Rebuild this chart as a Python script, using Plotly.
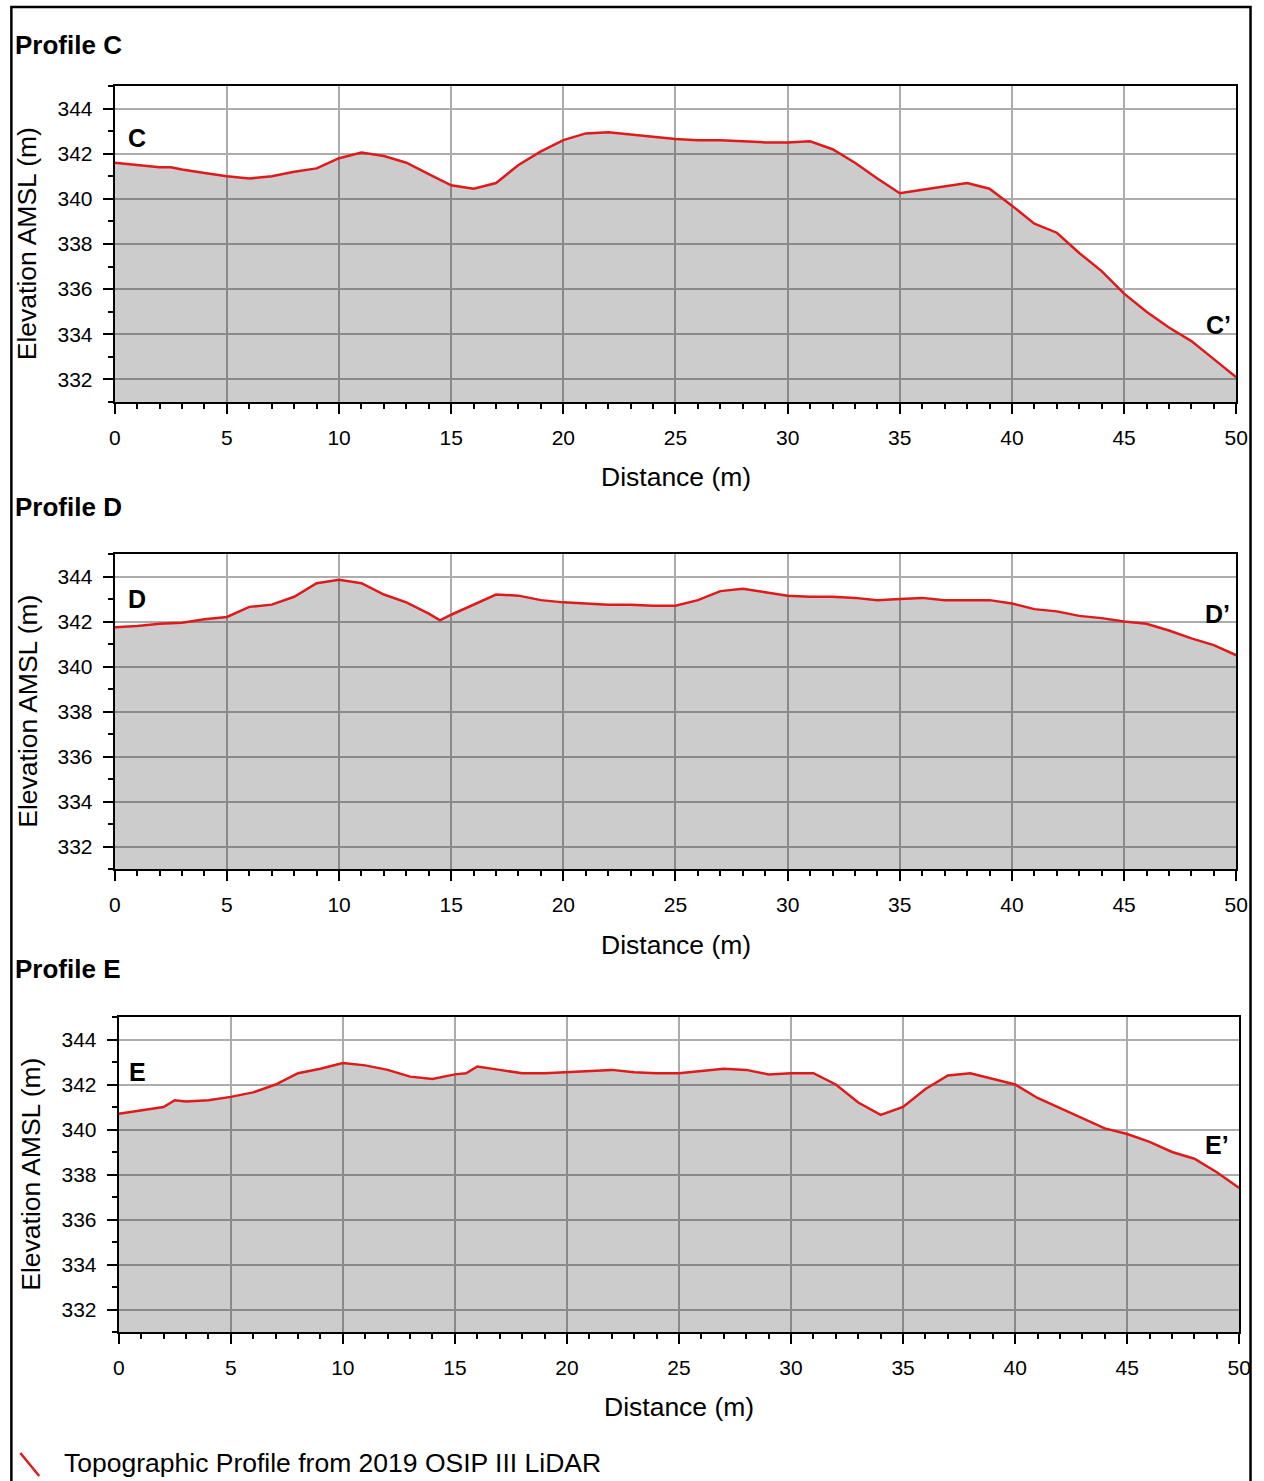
import plotly.graph_objects as go

# ---------------- data ----------------
dist_c = [0, 1, 2, 2.5, 3, 4, 5, 6, 7, 8, 9, 10, 11, 12, 13, 14, 15, 16, 17, 18, 19, 20,
          21, 22, 23, 24, 25, 26, 27, 28, 29, 30, 31, 32, 33, 34, 35, 36, 37, 38, 39, 40,
          41, 42, 43, 44, 45, 46, 47, 48, 49, 50]
elev_c = [341.6, 341.5, 341.4, 341.4, 341.3, 341.15, 341.0, 340.9, 341.0, 341.2, 341.35, 341.8,
          342.05, 341.9, 341.6, 341.1, 340.6, 340.45, 340.7, 341.5, 342.1, 342.6,
          342.9, 342.95, 342.85, 342.75, 342.65, 342.6, 342.6, 342.55, 342.5, 342.5, 342.55, 342.2,
          341.6, 340.9, 340.25, 340.4, 340.55, 340.7, 340.45, 339.7,
          338.9, 338.5, 337.6, 336.8, 335.8, 335.0, 334.3, 333.7, 332.9, 332.1]

dist_d = [0, 1, 2, 3, 4, 5, 6, 7, 8, 9, 10, 11, 12, 13, 14, 14.5, 15, 16, 17, 18, 19, 20,
          21, 22, 23, 24, 25, 26, 27, 28, 29, 30, 31, 32, 33, 34, 35, 36, 37, 38, 39, 40,
          41, 42, 43, 44, 45, 46, 47, 48, 49, 50]
elev_d = [341.75, 341.8, 341.9, 341.95, 342.1, 342.2, 342.65, 342.75, 343.1, 343.7, 343.85,
          343.7, 343.2, 342.85, 342.35, 342.05, 342.3, 342.75, 343.2, 343.15, 342.95, 342.85,
          342.8, 342.75, 342.75, 342.7, 342.7, 342.95, 343.35, 343.45, 343.3, 343.15,
          343.1, 343.1, 343.05, 342.95, 343.0, 343.05, 342.95, 342.95, 342.95, 342.8,
          342.55, 342.45, 342.25, 342.15, 342.0, 341.9, 341.6, 341.25, 340.95, 340.5]

dist_e = [0, 1, 2, 2.5, 3, 4, 5, 6, 7, 8, 9, 10, 11, 12, 13, 14, 15, 15.5, 16, 17, 18, 19, 20,
          21, 22, 23, 24, 25, 26, 27, 28, 29, 30, 31, 32, 33, 34, 35, 36, 37, 38, 39, 40,
          41, 42, 43, 44, 45, 46, 47, 48, 49, 50]
elev_e = [340.7, 340.85, 341.0, 341.3, 341.25, 341.3, 341.45, 341.65, 342.0, 342.5, 342.7,
          342.95, 342.85, 342.65, 342.35, 342.25, 342.45, 342.5, 342.8, 342.65, 342.5, 342.5,
          342.55, 342.6, 342.65, 342.55, 342.5, 342.5, 342.6, 342.7, 342.65, 342.45, 342.5,
          342.5, 342.0, 341.2, 340.65, 341.0, 341.8, 342.4, 342.5, 342.25, 342.0,
          341.4, 340.95, 340.5, 340.05, 339.8, 339.45, 339.0, 338.7, 338.1, 337.4]

profile_titles = ["Profile C", "Profile D", "Profile E"]
start_labels = ["C", "D", "E"]
end_labels = ["C\u2019", "D\u2019", "E\u2019"]
x_title = "Distance (m)"
y_title = "Elevation AMSL (m)"
legend_text = "Topographic Profile from 2019 OSIP III LiDAR"

# ---------------- layout helpers ----------------
W, H = 1264, 1481
FONT = "Arial, Liberation Sans, sans-serif"
RED = "#e0191b"
XOFF, XSCALE = 5.6, 0.9915   # horizontal correction seen in the photographs


def px_x(v):
    return min(1.0, ((v - XOFF) / XSCALE) / W)


def px_y(v):
    return 1 - v / H


# plot boxes in reference pixels: (left, right, top, bottom)
boxes = [(115, 1243, 86, 402), (115, 1243, 554, 869), (119, 1246, 1017, 1332)]
series = [(dist_c, elev_c), (dist_d, elev_d), (dist_e, elev_e)]
title_y = [45, 507, 969]
xtitle_y = [477, 945, 1407]
start_pos = [(1.0, 342.7), (1.0, 343.0), (0.85, 342.55)]
end_pos = [(49.2, 334.4), (49.15, 342.35), (49.0, 339.3)]

fig = go.Figure()
layout = dict(
    width=W, height=H,
    margin=dict(l=0, r=0, t=0, b=0),
    paper_bgcolor="white", plot_bgcolor="white",
    showlegend=False,
    font=dict(family=FONT, color="black"),
)
annotations = []
shapes = []

for i, ((x, y), (l, r, t, b)) in enumerate(zip(series, boxes)):
    k = "" if i == 0 else str(i + 1)
    fig.add_trace(go.Scatter(
        x=x, y=y, mode="lines",
        line=dict(color=RED, width=2.5),
        fill="tozeroy", fillcolor="rgba(0,0,0,0.2)",
        xaxis="x" + k, yaxis="y" + k,
        name="Topographic Profile",
    ))
    layout["xaxis" + k] = dict(
        domain=[px_x(l), px_x(r)], anchor="y" + k,
        range=[0, 50], dtick=5, tick0=0,
        showgrid=True, gridcolor="#acacac", gridwidth=1.5,
        showline=True, linecolor="black", linewidth=2, mirror=True,
        ticks="outside", ticklen=10, tickwidth=1.5, tickcolor="black",
        minor=dict(dtick=1, ticks="outside", ticklen=5, tickwidth=1.5, tickcolor="black", showgrid=False),
        tickfont=dict(size=21, family=FONT, color="black"),
        ticklabelstandoff=6,
        ticklabeloverflow="allow",
        zeroline=False,
    )
    layout["yaxis" + k] = dict(
        domain=[px_y(b), px_y(t)], anchor="x" + k,
        range=[331, 345], dtick=2, tick0=332,
        showgrid=True, gridcolor="#acacac", gridwidth=1.5,
        showline=True, linecolor="black", linewidth=2, mirror=True,
        ticks="outside", ticklen=10, tickwidth=1.5, tickcolor="black",
        minor=dict(dtick=1, ticks="outside", ticklen=5, tickwidth=1.5, tickcolor="black", showgrid=False),
        tickfont=dict(size=21, family=FONT, color="black"),
        ticklabelstandoff=6,
        zeroline=False,
    )
    annotations.append(dict(
        text="<b>%s</b>" % profile_titles[i], x=px_x(13), y=px_y(title_y[i]),
        xref="paper", yref="paper", xanchor="left", yanchor="middle",
        showarrow=False, font=dict(size=26, family=FONT, color="black"),
    ))
    annotations.append(dict(
        text=x_title, x=px_x((l + r) / 2), y=px_y(xtitle_y[i]),
        xref="paper", yref="paper", xanchor="center", yanchor="middle",
        showarrow=False, font=dict(size=26.5, family=FONT, color="black"),
    ))
    annotations.append(dict(
        text=y_title, x=px_x(27 if i < 2 else 30), y=px_y((t + b) / 2),
        xref="paper", yref="paper", xanchor="center", yanchor="middle",
        textangle=-90, showarrow=False, font=dict(size=26.5, family=FONT, color="black"),
    ))
    annotations.append(dict(
        text="<b>%s</b>" % start_labels[i], x=start_pos[i][0], y=start_pos[i][1],
        xref="x" + k, yref="y" + k, xanchor="center", yanchor="middle",
        showarrow=False, font=dict(size=25, family=FONT, color="black"),
    ))
    annotations.append(dict(
        text="<b>%s</b>" % end_labels[i], x=end_pos[i][0], y=end_pos[i][1],
        xref="x" + k, yref="y" + k, xanchor="center", yanchor="middle",
        showarrow=False, font=dict(size=25, family=FONT, color="black"),
    ))

# legend (drawn manually)
shapes.append(dict(type="line", xref="paper", yref="paper",
                   x0=px_x(20), y0=px_y(1453), x1=px_x(39), y1=px_y(1476),
                   line=dict(color=RED, width=2.5)))
annotations.append(dict(
    text=legend_text, x=px_x(62), y=px_y(1463),
    xref="paper", yref="paper", xanchor="left", yanchor="middle",
    showarrow=False, font=dict(size=26.5, family=FONT, color="black"),
))

# outer frame (left, top and right sides; it continues past the bottom)
xr = min(px_x(1258), 1 - 1.5 / W)
shapes.append(dict(type="path", xref="paper", yref="paper",
                   path="M %f %f L %f %f L %f %f L %f %f" % (
                       px_x(11), 0.0, px_x(11), px_y(7), xr, px_y(7), xr, 0.0),
                   line=dict(color="black", width=2.5)))

layout["annotations"] = annotations
layout["shapes"] = shapes
fig.update_layout(**layout)
fig.write_html(
    "out.html",
    config={"displayModeBar": False},
    post_script="document.body.style.margin='0';document.body.style.padding='0';"
                "document.documentElement.style.overflow='hidden';",
)
